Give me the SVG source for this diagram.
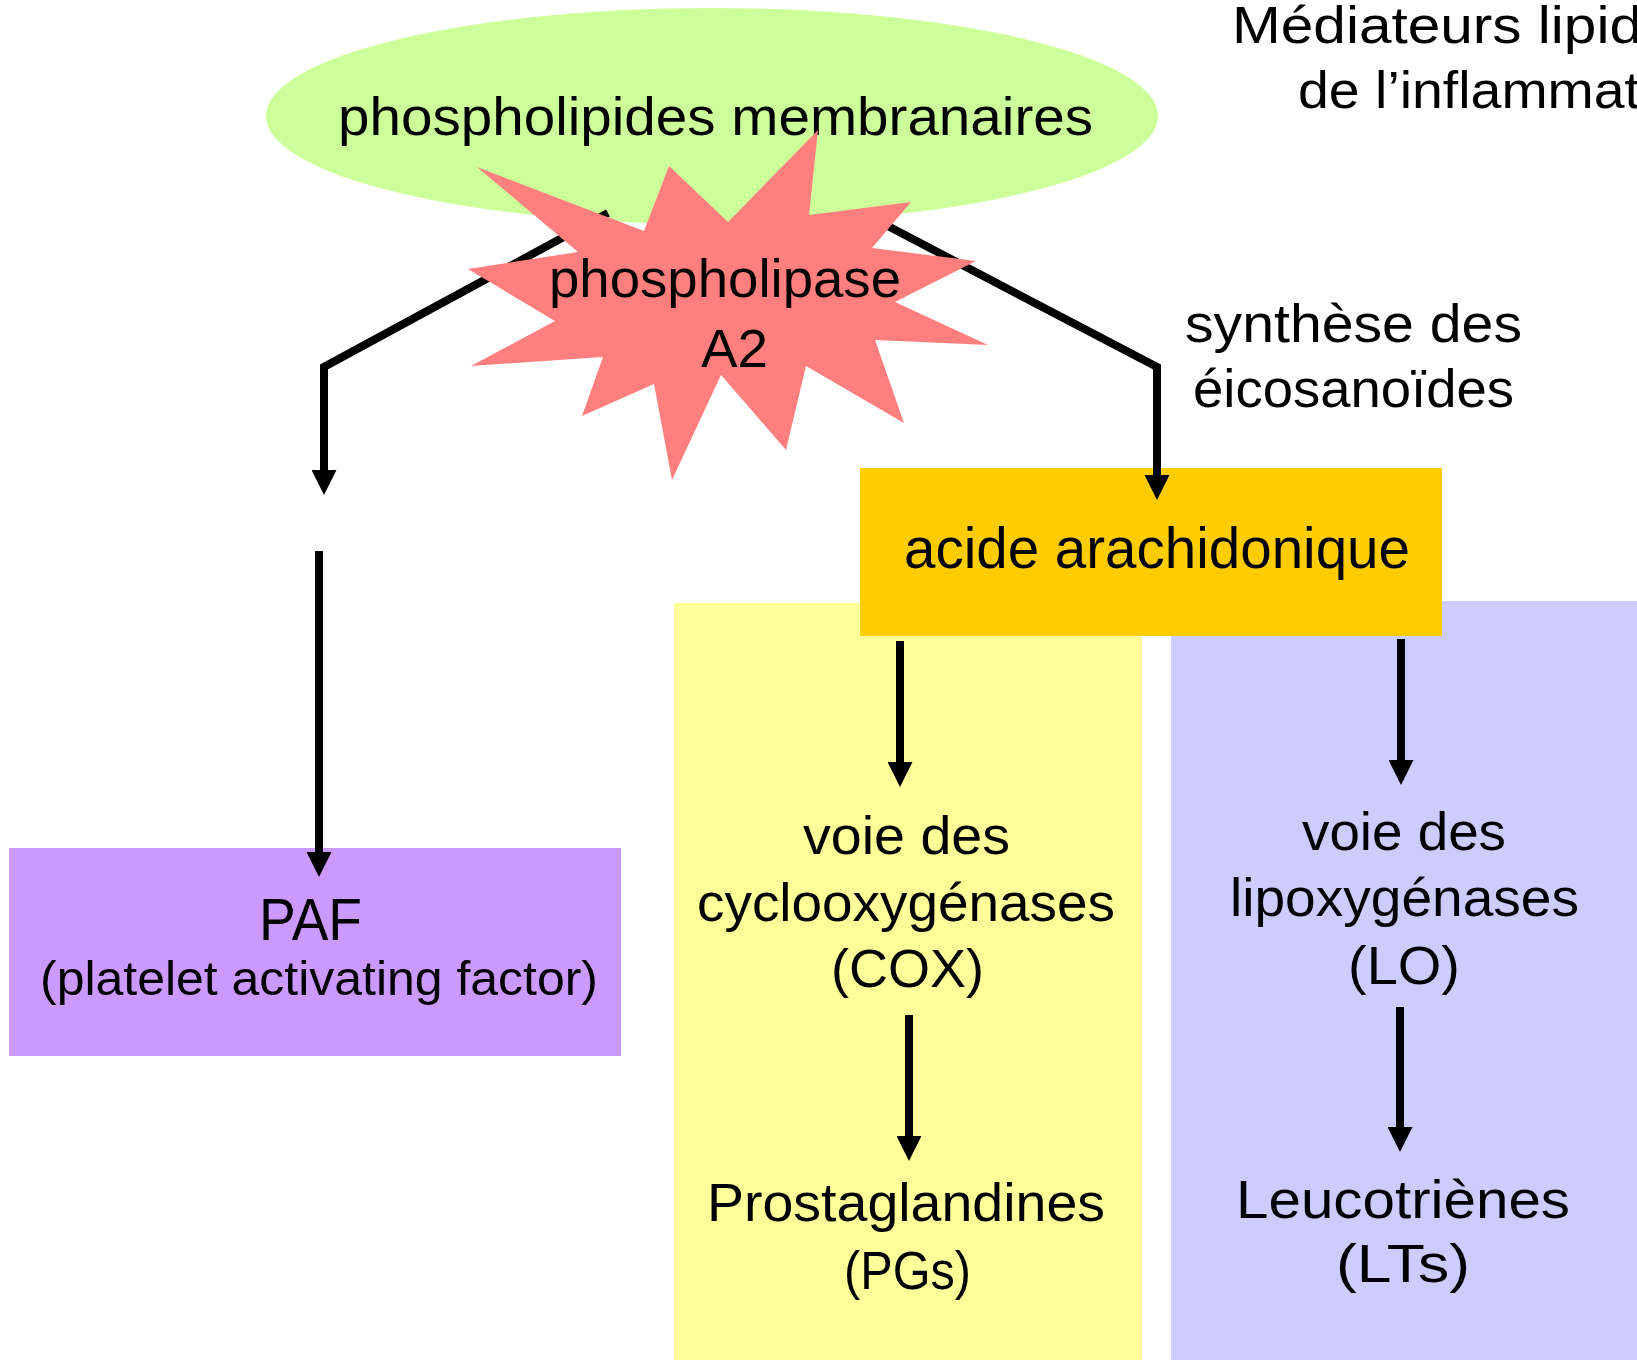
<svg xmlns="http://www.w3.org/2000/svg" width="1637" height="1360" viewBox="0 0 1637 1360">
<style>
  text { font-family: "Liberation Sans", Arial, sans-serif; fill: #000; }
  .t54 { font-size: 54px; }
  .conn { fill: none; stroke: #000; stroke-width: 8; stroke-linejoin: miter; stroke-linecap: butt; }
</style>
<defs>
  <marker id="ah" markerUnits="userSpaceOnUse" markerWidth="25" markerHeight="25" refX="0" refY="12.5" orient="auto" viewBox="0 0 25 25">
    <path d="M0,0 L25,12.5 L0,25 z" fill="#000"/>
  </marker>
</defs>
<rect width="1637" height="1360" fill="#fff"/>

<g id="title">
  <text x="1232" y="43" font-size="52" textLength="410" lengthAdjust="spacingAndGlyphs">Médiateurs lipid</text>
  <text x="1298" y="108" font-size="52" textLength="342" lengthAdjust="spacingAndGlyphs">de l’inflammat</text>
</g>

<g id="cox-panel">
  <rect x="674" y="603" width="468" height="757" fill="#FFFF99"/>
</g>
<g id="lo-panel">
  <rect x="1171" y="601" width="466" height="759" fill="#CCCCFF"/>
</g>

<g id="membrane">
  <ellipse cx="712" cy="116" rx="446" ry="108" fill="#CCFF99"/>
  <text class="t54" x="338" y="135" textLength="755" lengthAdjust="spacingAndGlyphs">phospholipides membranaires</text>
</g>

<g id="acide">
  <rect x="860" y="468" width="582" height="168" fill="#FFCC00"/>
  <text x="904" y="568" font-size="58" textLength="506" lengthAdjust="spacingAndGlyphs">acide arachidonique</text>
</g>

<g id="paf">
  <rect x="9" y="848" width="612" height="208" fill="#CC99FF"/>
  <text x="259" y="940" font-size="60" textLength="103" lengthAdjust="spacingAndGlyphs">PAF</text>
  <text x="40" y="995" font-size="48" textLength="558" lengthAdjust="spacingAndGlyphs">(platelet activating factor)</text>
</g>

<g id="connectors">
  <path class="conn" d="M608,213 L324,367 L324,470" marker-end="url(#ah)"/>
  <path class="conn" d="M319,551 L319,852" marker-end="url(#ah)"/>
  <path class="conn" d="M884,224 L1157,367 L1157,475" marker-end="url(#ah)"/>
  <path class="conn" d="M900,641 L900,762" marker-end="url(#ah)"/>
  <path class="conn" d="M1401,639 L1401,760" marker-end="url(#ah)"/>
  <path class="conn" d="M909,1015 L909,1136" marker-end="url(#ah)"/>
  <path class="conn" d="M1400,1007 L1400,1127" marker-end="url(#ah)"/>
</g>

<g id="phospholipase">
  <polygon fill="#FF7F7F" points="477,167 644,231 669,166 728,222 818,130 809,215 911,202 872,248 976,261 895,302 988,345 875,340 904,423 806,366 786,450 721,375 672,480 654,384 582,416 603,357 471,366 555,321 468,269 578,252"/>
  <text class="t54" x="549" y="297" textLength="352" lengthAdjust="spacingAndGlyphs">phospholipase</text>
  <text class="t54" x="701" y="367" textLength="67" lengthAdjust="spacingAndGlyphs">A2</text>
</g>

<g id="eicosanoides">
  <text class="t54" x="1185" y="342" textLength="337" lengthAdjust="spacingAndGlyphs">synthèse des</text>
  <text class="t54" x="1193" y="407" textLength="321" lengthAdjust="spacingAndGlyphs">éicosanoïdes</text>
</g>

<g id="cox">
  <text class="t54" x="803" y="854" textLength="207" lengthAdjust="spacingAndGlyphs">voie des</text>
  <text class="t54" x="697" y="921" textLength="418" lengthAdjust="spacingAndGlyphs">cyclooxygénases</text>
  <text class="t54" x="831" y="987" textLength="153" lengthAdjust="spacingAndGlyphs">(COX)</text>
</g>
<g id="prostaglandines">
  <text class="t54" x="707" y="1221" textLength="398" lengthAdjust="spacingAndGlyphs">Prostaglandines</text>
  <text class="t54" x="844" y="1289" textLength="127" lengthAdjust="spacingAndGlyphs">(PGs)</text>
</g>

<g id="lo">
  <text class="t54" x="1302" y="850" textLength="204" lengthAdjust="spacingAndGlyphs">voie des</text>
  <text class="t54" x="1230" y="916" textLength="349" lengthAdjust="spacingAndGlyphs">lipoxygénases</text>
  <text class="t54" x="1348" y="984" textLength="112" lengthAdjust="spacingAndGlyphs">(LO)</text>
</g>
<g id="leucotrienes">
  <text class="t54" x="1236" y="1218" textLength="334" lengthAdjust="spacingAndGlyphs">Leucotriènes</text>
  <text class="t54" x="1336" y="1282" textLength="134" lengthAdjust="spacingAndGlyphs">(LTs)</text>
</g>
</svg>
